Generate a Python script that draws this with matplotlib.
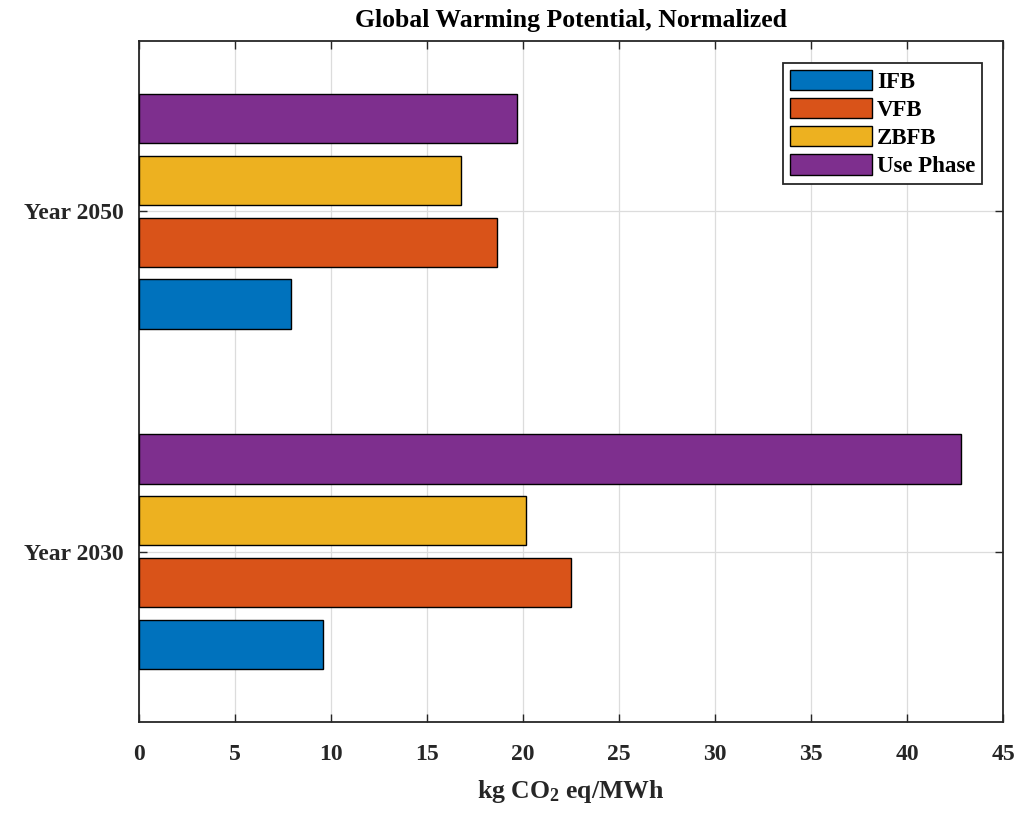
import numpy as np
import matplotlib
matplotlib.use('Agg')
import matplotlib.pyplot as plt

# kg CO2 eq per MWh, normalized
years = ['Year 2030', 'Year 2050']
series = ['IFB', 'VFB', 'ZBFB', 'Use Phase']
ifb = [9.57, 7.92]
vfb = [22.48, 18.63]
zbfb = [20.17, 16.75]
use_phase = [42.81, 19.67]

colors = ['#0072BD', '#D95319', '#EDB120', '#7E2F8E']

plt.rcParams.update({
    'font.family': ['Liberation Serif', 'DejaVu Serif'],
    'font.weight': 'bold',
    'axes.labelweight': 'bold',
    'axes.titleweight': 'bold',
    'axes.edgecolor': '#262626',
    'axes.linewidth': 1.3,
    'xtick.direction': 'in',
    'ytick.direction': 'in',
    'xtick.color': '#262626',
    'ytick.color': '#262626',
    'mathtext.fontset': 'custom',
    'mathtext.rm': 'Liberation Serif:bold',
    'mathtext.bf': 'Liberation Serif:bold',
    'mathtext.it': 'Liberation Serif:bold',
})

fig = plt.figure(figsize=(10.21, 8.13), dpi=100)
ax = fig.add_axes([0.1361, 0.1119, 0.8463, 0.8377])

y = np.arange(1, len(years) + 1)
offsets = [-0.272, -0.091, 0.091, 0.272]
height = 0.145
for vals, off, col, name in zip([ifb, vfb, zbfb, use_phase], offsets, colors, series):
    ax.barh(y + off, vals, height=height, color=col, edgecolor='black',
            linewidth=1.0, label=name, zorder=3)

ax.set_xlim(0, 45)
ax.set_ylim(0.5, 2.5)
ax.set_xticks(np.arange(0, 46, 5))
ax.set_yticks(y)
ax.set_yticklabels(years)
ax.tick_params(axis='both', labelsize=17, length=6, width=1.0,
               top=True, right=True, labelcolor='#262626')
ax.tick_params(axis='x', pad=16)
ax.tick_params(axis='y', pad=11)
ax.grid(True, color='#dcdcdc', linewidth=0.9, zorder=0)
ax.set_axisbelow(True)

ax.set_xlabel('kg CO$_2$ eq/MWh', fontsize=18.5, color='#262626', labelpad=9)
ax.set_title('Global Warming Potential, Normalized', fontsize=18.5, color='black', pad=10)

leg = ax.legend(loc='upper right', bbox_to_anchor=(0.976, 0.968), fontsize=16.5,
                handlelength=3.6, handleheight=1.0, handletextpad=0.2,
                borderpad=0.3, labelspacing=0.22, fancybox=False,
                framealpha=1, edgecolor='#262626', borderaxespad=0)
leg.get_frame().set_linewidth(1.3)

fig.savefig('out.png', dpi=100)
